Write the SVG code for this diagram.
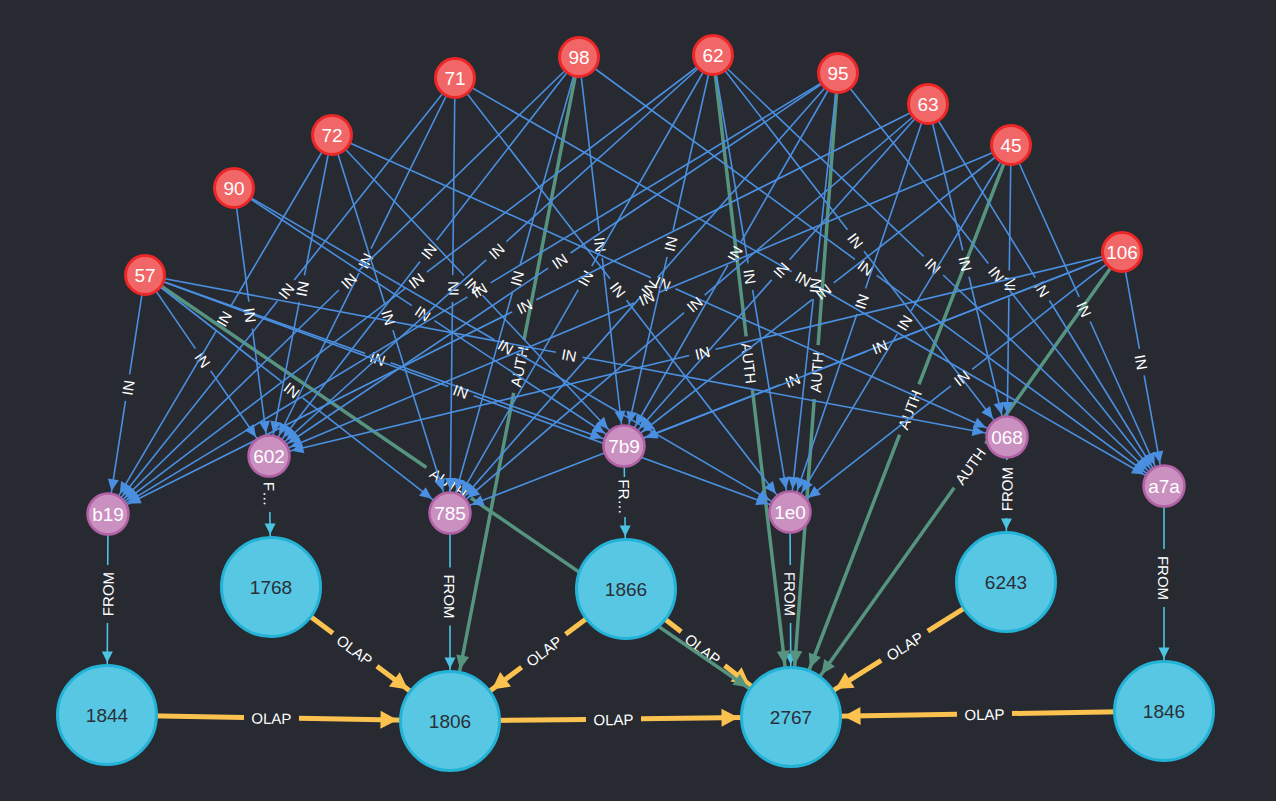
<svg xmlns="http://www.w3.org/2000/svg" width="1276" height="801" viewBox="0 0 1276 801">
<defs>
<style>
.in{stroke:#4a8fe0;stroke-width:1.6;fill:none}
.au{stroke:#569480;stroke-width:3.5;fill:none}
.fr{stroke:#4cc3e2;stroke-width:1.6;fill:none}
.ol{stroke:#fcc24f;stroke-width:5;fill:none}
.in.f{marker-end:url(#ai)} .in.r{marker-start:url(#ai)}
.au.f{marker-end:url(#aa)} .au.r{marker-start:url(#aa)}
.fr.f{marker-end:url(#af)} .fr.r{marker-start:url(#af)}
.ol.f{marker-end:url(#ao)} .ol.r{marker-start:url(#ao)}
.lb{fill:#ffffff;font-family:"Liberation Sans",Arial,sans-serif;font-size:15px;text-anchor:middle;dominant-baseline:central}
.red circle{fill:#f16667;stroke:#eb2728;stroke-width:3}
.pur circle{fill:#c990c0;stroke:#b261a5;stroke-width:2.5}
.cy circle{fill:#57c7e3;stroke:#23b3d7;stroke-width:3}
.nt{font-family:"Liberation Sans",Arial,sans-serif;font-size:19px;text-anchor:middle;dominant-baseline:central}
.red text,.pur text{fill:#ffffff}
.cy text{fill:#2b2f38}
</style>
<marker id="ai" markerUnits="userSpaceOnUse" viewBox="-20 -10 50 20" markerWidth="50" markerHeight="20" refX="23" refY="0" orient="auto-start-reverse"><path d="M0,0 L-12,-5.5 L-12,5.5 Z" fill="#4a8fe0"/></marker>
<marker id="aa" markerUnits="userSpaceOnUse" viewBox="-30 -10 90 20" markerWidth="90" markerHeight="20" refX="52.5" refY="0" orient="auto-start-reverse"><path d="M0,0 L-14,-6.5 L-14,6.5 Z" fill="#569480"/></marker>
<marker id="af" markerUnits="userSpaceOnUse" viewBox="-30 -10 90 20" markerWidth="90" markerHeight="20" refX="52.5" refY="0" orient="auto-start-reverse"><path d="M0,0 L-11,-5.5 L-11,5.5 Z" fill="#4cc3e2"/></marker>
<marker id="ao" markerUnits="userSpaceOnUse" viewBox="-30 -12 90 24" markerWidth="90" markerHeight="24" refX="52.5" refY="0" orient="auto-start-reverse"><path d="M0,0 L-17,-9 L-17,9 Z" fill="#fcc24f"/></marker>
</defs>
<rect width="1276" height="801" fill="#272a31"/>
<g id="connectors">
<g id="olap">
<path id="o1" class="ol f" d="M271 587 L450 721" stroke-dasharray="77.3 55 3000"/><text class="lb"><textPath href="#o1" startOffset="104.8">OLAP</textPath></text>
<path id="o2" class="ol r" d="M450 721 L626 589" stroke-dasharray="89.5 55 3000"/><text class="lb"><textPath href="#o2" startOffset="117">OLAP</textPath></text>
<path id="o3" class="ol f" d="M626 589 L791 717" stroke-dasharray="69.9 55 3000"/><text class="lb"><textPath href="#o3" startOffset="97.4">OLAP</textPath></text>
<path id="o4" class="ol r" d="M791 717 L1006 582" stroke-dasharray="106.5 55 3000"/><text class="lb"><textPath href="#o4" startOffset="134">OLAP</textPath></text>
<path id="o5" class="ol f" d="M107 715 L450 721" stroke-dasharray="137 55 3000"/><text class="lb"><textPath href="#o5" startOffset="164.5">OLAP</textPath></text>
<path id="o6" class="ol f" d="M450 721 L791 717" stroke-dasharray="136 55 3000"/><text class="lb"><textPath href="#o6" startOffset="163.5">OLAP</textPath></text>
<path id="o7" class="ol r" d="M791 717 L1164 711" stroke-dasharray="166 55 3000"/><text class="lb"><textPath href="#o7" startOffset="193.5">OLAP</textPath></text>
</g>
<g id="from">
<path id="f1" class="fr r" d="M107 715 L108 514" stroke-dasharray="92 58 3000"/><text class="lb"><textPath href="#f1" startOffset="121">FROM</textPath></text>
<path id="f2" class="fr f" d="M269 456 L271 587" stroke-dasharray="20 36 3000"/><text class="lb"><textPath href="#f2" startOffset="38">F…</textPath></text>
<path id="f3" class="fr f" d="M450 513 L450 721" stroke-dasharray="54.5 58 3000"/><text class="lb"><textPath href="#f3" startOffset="83.5">FROM</textPath></text>
<path id="f4" class="fr f" d="M624 446 L626 589" stroke-dasharray="31 40 3000"/><text class="lb"><textPath href="#f4" startOffset="51">FR…</textPath></text>
<path id="f5" class="fr f" d="M790 512 L791 717" stroke-dasharray="53 58 3000"/><text class="lb"><textPath href="#f5" startOffset="82">FROM</textPath></text>
<path id="f6" class="fr r" d="M1006 582 L1007 437" stroke-dasharray="64 58 3000"/><text class="lb"><textPath href="#f6" startOffset="93">FROM</textPath></text>
<path id="f7" class="fr f" d="M1164 486 L1164 711" stroke-dasharray="63 58 3000"/><text class="lb"><textPath href="#f7" startOffset="92">FROM</textPath></text>
</g>
<g id="auth">
<path id="a1" class="au f" d="M145 275 L791 717" stroke-dasharray="341 54 3000"/><text class="lb"><textPath href="#a1" startOffset="368">AUTH</textPath></text>
<path id="a2" class="au r" d="M450 721 L579 57" stroke-dasharray="334.2 54 3000"/><text class="lb"><textPath href="#a2" startOffset="361.2">AUTH</textPath></text>
<path id="a3" class="au f" d="M713 55 L791 717" stroke-dasharray="283.3 54 3000"/><text class="lb"><textPath href="#a3" startOffset="310.3">AUTH</textPath></text>
<path id="a4" class="au r" d="M791 717 L838 73" stroke-dasharray="318.8 54 3000"/><text class="lb"><textPath href="#a4" startOffset="345.8">AUTH</textPath></text>
<path id="a5" class="au r" d="M791 717 L1011 145" stroke-dasharray="302.5 54 3000"/><text class="lb"><textPath href="#a5" startOffset="329.5">AUTH</textPath></text>
<path id="a6" class="au r" d="M791 717 L1122 252" stroke-dasharray="281.4 54 3000"/><text class="lb"><textPath href="#a6" startOffset="308.4">AUTH</textPath></text>
</g>
<g id="in">
<path id="e1" class="in r" d="M108 514 L145 275" stroke-dasharray="114.4 27 3000"/><text class="lb"><textPath href="#e1" startOffset="127.9">IN</textPath></text>
<path id="e2" class="in f" d="M145 275 L269 456" stroke-dasharray="89.2 27 3000"/><text class="lb"><textPath href="#e2" startOffset="102.7">IN</textPath></text>
<path id="e3" class="in f" d="M145 275 L450 513" stroke-dasharray="172.9 27 3000"/><text class="lb"><textPath href="#e3" startOffset="186.5">IN</textPath></text>
<path id="e4" class="in f" d="M145 275 L624 446" stroke-dasharray="233.8 27 3000"/><text class="lb"><textPath href="#e4" startOffset="247.3">IN</textPath></text>
<path id="e5" class="in f" d="M145 275 L790 512" stroke-dasharray="323.1 27 3000"/><text class="lb"><textPath href="#e5" startOffset="336.6">IN</textPath></text>
<path id="e6" class="in f" d="M145 275 L1007 437" stroke-dasharray="418.1 27 3000"/><text class="lb"><textPath href="#e6" startOffset="431.6">IN</textPath></text>
<path id="e7" class="in f" d="M234 188 L269 456" stroke-dasharray="114.7 27 3000"/><text class="lb"><textPath href="#e7" startOffset="128.2">IN</textPath></text>
<path id="e8" class="in f" d="M234 188 L624 446" stroke-dasharray="213.3 27 3000"/><text class="lb"><textPath href="#e8" startOffset="226.8">IN</textPath></text>
<path id="e9" class="in f" d="M234 188 L790 512" stroke-dasharray="301.3 27 3000"/><text class="lb"><textPath href="#e9" startOffset="314.8">IN</textPath></text>
<path id="e10" class="in r" d="M108 514 L332 135" stroke-dasharray="213.6 27 3000"/><text class="lb"><textPath href="#e10" startOffset="227.1">IN</textPath></text>
<path id="e11" class="in r" d="M269 456 L332 135" stroke-dasharray="157.1 27 3000"/><text class="lb"><textPath href="#e11" startOffset="170.6">IN</textPath></text>
<path id="e12" class="in f" d="M332 135 L450 513" stroke-dasharray="177.5 27 3000"/><text class="lb"><textPath href="#e12" startOffset="191">IN</textPath></text>
<path id="e13" class="in f" d="M332 135 L624 446" stroke-dasharray="192.8 27 3000"/><text class="lb"><textPath href="#e13" startOffset="206.3">IN</textPath></text>
<path id="e14" class="in f" d="M332 135 L1007 437" stroke-dasharray="349.3 27 3000"/><text class="lb"><textPath href="#e14" startOffset="362.8">IN</textPath></text>
<path id="e15" class="in r" d="M108 514 L455 78" stroke-dasharray="272.1 27 3000"/><text class="lb"><textPath href="#e15" startOffset="285.6">IN</textPath></text>
<path id="e16" class="in r" d="M269 456 L455 78" stroke-dasharray="204.2 27 3000"/><text class="lb"><textPath href="#e16" startOffset="217.7">IN</textPath></text>
<path id="e17" class="in r" d="M450 513 L455 78" stroke-dasharray="211 27 3000"/><text class="lb"><textPath href="#e17" startOffset="224.5">IN</textPath></text>
<path id="e18" class="in f" d="M455 78 L790 512" stroke-dasharray="253.7 27 3000"/><text class="lb"><textPath href="#e18" startOffset="267.2">IN</textPath></text>
<path id="e19" class="in f" d="M455 78 L1164 486" stroke-dasharray="388.5 27 3000"/><text class="lb"><textPath href="#e19" startOffset="402">IN</textPath></text>
<path id="e20" class="in r" d="M108 514 L579 57" stroke-dasharray="321.7 27 3000"/><text class="lb"><textPath href="#e20" startOffset="335.2">IN</textPath></text>
<path id="e21" class="in r" d="M269 456 L579 57" stroke-dasharray="246.2 27 3000"/><text class="lb"><textPath href="#e21" startOffset="259.7">IN</textPath></text>
<path id="e22" class="in r" d="M450 513 L579 57" stroke-dasharray="230.5 27 3000"/><text class="lb"><textPath href="#e22" startOffset="244">IN</textPath></text>
<path id="e23" class="in f" d="M579 57 L624 446" stroke-dasharray="175.3 27 3000"/><text class="lb"><textPath href="#e23" startOffset="188.8">IN</textPath></text>
<path id="e24" class="in f" d="M579 57 L1164 486" stroke-dasharray="342.2 27 3000"/><text class="lb"><textPath href="#e24" startOffset="355.7">IN</textPath></text>
<path id="e25" class="in r" d="M108 514 L713 55" stroke-dasharray="373.2 27 3000"/><text class="lb"><textPath href="#e25" startOffset="386.7">IN</textPath></text>
<path id="e26" class="in r" d="M269 456 L713 55" stroke-dasharray="292.7 27 3000"/><text class="lb"><textPath href="#e26" startOffset="306.2">IN</textPath></text>
<path id="e27" class="in r" d="M450 513 L713 55" stroke-dasharray="257.6 27 3000"/><text class="lb"><textPath href="#e27" startOffset="271.1">IN</textPath></text>
<path id="e28" class="in r" d="M624 446 L713 55" stroke-dasharray="194 27 3000"/><text class="lb"><textPath href="#e28" startOffset="207.5">IN</textPath></text>
<path id="e29" class="in f" d="M713 55 L790 512" stroke-dasharray="211.2 27 3000"/><text class="lb"><textPath href="#e29" startOffset="224.7">IN</textPath></text>
<path id="e30" class="in f" d="M713 55 L1007 437" stroke-dasharray="220.5 27 3000"/><text class="lb"><textPath href="#e30" startOffset="234">IN</textPath></text>
<path id="e31" class="in f" d="M713 55 L1164 486" stroke-dasharray="291.4 27 3000"/><text class="lb"><textPath href="#e31" startOffset="304.9">IN</textPath></text>
<path id="e32" class="in r" d="M108 514 L838 73" stroke-dasharray="420 27 3000"/><text class="lb"><textPath href="#e32" startOffset="433.5">IN</textPath></text>
<path id="e33" class="in r" d="M269 456 L838 73" stroke-dasharray="336.5 27 3000"/><text class="lb"><textPath href="#e33" startOffset="350">IN</textPath></text>
<path id="e34" class="in r" d="M450 513 L838 73" stroke-dasharray="286.8 27 3000"/><text class="lb"><textPath href="#e34" startOffset="300.3">IN</textPath></text>
<path id="e35" class="in r" d="M624 446 L838 73" stroke-dasharray="208.5 27 3000"/><text class="lb"><textPath href="#e35" startOffset="222">IN</textPath></text>
<path id="e36" class="in r" d="M790 512 L838 73" stroke-dasharray="214.3 27 3000"/><text class="lb"><textPath href="#e36" startOffset="227.8">IN</textPath></text>
<path id="e37" class="in f" d="M838 73 L1164 486" stroke-dasharray="242.6 27 3000"/><text class="lb"><textPath href="#e37" startOffset="256.1">IN</textPath></text>
<path id="e38" class="in r" d="M108 514 L928 104" stroke-dasharray="451.9 27 3000"/><text class="lb"><textPath href="#e38" startOffset="465.4">IN</textPath></text>
<path id="e39" class="in r" d="M450 513 L928 104" stroke-dasharray="308.1 27 3000"/><text class="lb"><textPath href="#e39" startOffset="321.6">IN</textPath></text>
<path id="e40" class="in r" d="M624 446 L928 104" stroke-dasharray="222.3 27 3000"/><text class="lb"><textPath href="#e40" startOffset="235.8">IN</textPath></text>
<path id="e41" class="in r" d="M790 512 L928 104" stroke-dasharray="208.9 27 3000"/><text class="lb"><textPath href="#e41" startOffset="222.4">IN</textPath></text>
<path id="e42" class="in f" d="M928 104 L1007 437" stroke-dasharray="150.6 27 3000"/><text class="lb"><textPath href="#e42" startOffset="164.1">IN</textPath></text>
<path id="e43" class="in f" d="M928 104 L1164 486" stroke-dasharray="204 27 3000"/><text class="lb"><textPath href="#e43" startOffset="217.5">IN</textPath></text>
<path id="e44" class="in r" d="M269 456 L1011 145" stroke-dasharray="395.8 27 3000"/><text class="lb"><textPath href="#e44" startOffset="409.3">IN</textPath></text>
<path id="e45" class="in r" d="M624 446 L1011 145" stroke-dasharray="238.7 27 3000"/><text class="lb"><textPath href="#e45" startOffset="252.2">IN</textPath></text>
<path id="e46" class="in r" d="M790 512 L1011 145" stroke-dasharray="207.7 27 3000"/><text class="lb"><textPath href="#e46" startOffset="221.2">IN</textPath></text>
<path id="e47" class="in r" d="M1007 437 L1011 145" stroke-dasharray="139.5 27 3000"/><text class="lb"><textPath href="#e47" startOffset="153">IN</textPath></text>
<path id="e48" class="in f" d="M1011 145 L1164 486" stroke-dasharray="166.4 27 3000"/><text class="lb"><textPath href="#e48" startOffset="179.9">IN</textPath></text>
<path id="e49" class="in r" d="M269 456 L1122 252" stroke-dasharray="432.1 27 3000"/><text class="lb"><textPath href="#e49" startOffset="445.6">IN</textPath></text>
<path id="e50" class="in r" d="M450 513 L1122 252" stroke-dasharray="354 27 3000"/><text class="lb"><textPath href="#e50" startOffset="367.5">IN</textPath></text>
<path id="e51" class="in r" d="M624 446 L1122 252" stroke-dasharray="260.8 27 3000"/><text class="lb"><textPath href="#e51" startOffset="274.3">IN</textPath></text>
<path id="e52" class="in r" d="M790 512 L1122 252" stroke-dasharray="204.4 27 3000"/><text class="lb"><textPath href="#e52" startOffset="217.9">IN</textPath></text>
<path id="e53" class="in f" d="M1122 252 L1164 486" stroke-dasharray="98.4 27 3000"/><text class="lb"><textPath href="#e53" startOffset="111.9">IN</textPath></text>
</g>
</g>
<g id="nodes">
<g id="n-1844" class="cy"><circle cx="107" cy="715" r="49.5"/><text class="nt" x="107" y="715">1844</text></g>
<g id="n-1806" class="cy"><circle cx="450" cy="721" r="49.5"/><text class="nt" x="450" y="721">1806</text></g>
<g id="n-2767" class="cy"><circle cx="791" cy="717" r="49.5"/><text class="nt" x="791" y="717">2767</text></g>
<g id="n-1846" class="cy"><circle cx="1164" cy="711" r="49.5"/><text class="nt" x="1164" y="711">1846</text></g>
<g id="n-1768" class="cy"><circle cx="271" cy="587" r="49.5"/><text class="nt" x="271" y="587">1768</text></g>
<g id="n-1866" class="cy"><circle cx="626" cy="589" r="49.5"/><text class="nt" x="626" y="589">1866</text></g>
<g id="n-6243" class="cy"><circle cx="1006" cy="582" r="49.5"/><text class="nt" x="1006" y="582">6243</text></g>
<g id="n-602" class="pur"><circle cx="269" cy="456" r="20.5"/><text class="nt" x="269" y="456">602</text></g>
<g id="n-b19" class="pur"><circle cx="108" cy="514" r="20.5"/><text class="nt" x="108" y="514">b19</text></g>
<g id="n-785" class="pur"><circle cx="450" cy="513" r="20.5"/><text class="nt" x="450" y="513">785</text></g>
<g id="n-7b9" class="pur"><circle cx="624" cy="446" r="20.5"/><text class="nt" x="624" y="446">7b9</text></g>
<g id="n-1e0" class="pur"><circle cx="790" cy="512" r="20.5"/><text class="nt" x="790" y="512">1e0</text></g>
<g id="n-068" class="pur"><circle cx="1007" cy="437" r="20.5"/><text class="nt" x="1007" y="437">068</text></g>
<g id="n-a7a" class="pur"><circle cx="1164" cy="486" r="20.5"/><text class="nt" x="1164" y="486">a7a</text></g>
<g id="n-57" class="red"><circle cx="145" cy="275" r="19.5"/><text class="nt" x="145" y="275">57</text></g>
<g id="n-90" class="red"><circle cx="234" cy="188" r="19.5"/><text class="nt" x="234" y="188">90</text></g>
<g id="n-72" class="red"><circle cx="332" cy="135" r="19.5"/><text class="nt" x="332" y="135">72</text></g>
<g id="n-71" class="red"><circle cx="455" cy="78" r="19.5"/><text class="nt" x="455" y="78">71</text></g>
<g id="n-98" class="red"><circle cx="579" cy="57" r="19.5"/><text class="nt" x="579" y="57">98</text></g>
<g id="n-62" class="red"><circle cx="713" cy="55" r="19.5"/><text class="nt" x="713" y="55">62</text></g>
<g id="n-95" class="red"><circle cx="838" cy="73" r="19.5"/><text class="nt" x="838" y="73">95</text></g>
<g id="n-63" class="red"><circle cx="928" cy="104" r="19.5"/><text class="nt" x="928" y="104">63</text></g>
<g id="n-45" class="red"><circle cx="1011" cy="145" r="19.5"/><text class="nt" x="1011" y="145">45</text></g>
<g id="n-106" class="red"><circle cx="1122" cy="252" r="19.5"/><text class="nt" x="1122" y="252">106</text></g>
</g>
</svg>
